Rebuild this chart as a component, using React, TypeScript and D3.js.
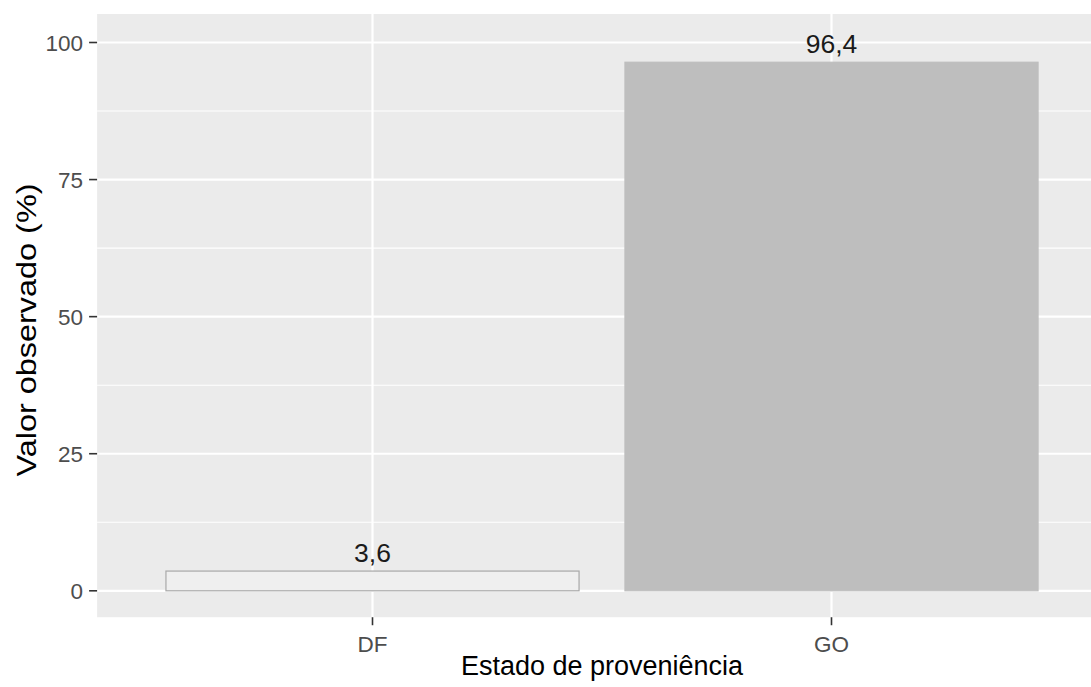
import React from "react";
import * as d3 from "d3";

const categories = ["DF", "GO"];
const values = [3.6, 96.4];
const valueLabels = ["3,6", "96,4"];
const fills = ["#EFEFEF", "#BEBEBE"];
const strokes = ["#A8A8A8", "#BEBEBE"];
const yTicks = [0, 25, 50, 75, 100];
const yMinorTicks = [12.5, 37.5, 62.5, 87.5];
const xTitle = "Estado de proveniência";
const yTitle = "Valor observado (%)";

const W = 1091;
const H = 687;

export default function App() {
  const y = d3.scaleLinear().domain([0, 100]).range([590.8, 42.5]);
  const x = d3.scalePoint<string>().domain(categories).range([372.5, 831.5]);
  const step = x.step();
  const barW = step * 0.9;
  const panelLeft = (x(categories[0]) as number) - 0.6 * step;
  const panelRight = (x(categories[categories.length - 1]) as number) + 0.6 * step;
  const panelTop = y(105.2);
  const panelBottom = y(-4.82);
  const font = "'Liberation Sans', Arial, sans-serif";

  return (
    <svg
      width={W}
      height={H}
      style={{ position: "absolute", left: 0, top: 0, background: "#fff" }}
    >
      <rect x={panelLeft} y={panelTop} width={panelRight - panelLeft} height={panelBottom - panelTop} fill="#EBEBEB" />
      {yMinorTicks.map((t) => (
        <line key={"mn" + t} x1={panelLeft} x2={panelRight} y1={y(t)} y2={y(t)} stroke="#FFFFFF" strokeWidth={1.1} />
      ))}
      {yTicks.map((t) => (
        <line key={"mj" + t} x1={panelLeft} x2={panelRight} y1={y(t)} y2={y(t)} stroke="#FFFFFF" strokeWidth={2.2} />
      ))}
      {categories.map((c) => (
        <line key={"vx" + c} x1={x(c)} x2={x(c)} y1={panelTop} y2={panelBottom} stroke="#FFFFFF" strokeWidth={2.2} />
      ))}
      {categories.map((c, i) => (
        <rect
          key={"bar" + c}
          x={(x(c) as number) - barW / 2}
          y={y(values[i])}
          width={barW}
          height={y(0) - y(values[i])}
          fill={fills[i]}
          stroke={strokes[i]}
          strokeWidth={1.2}
        />
      ))}
      {categories.map((c, i) => (
        <text
          key={"lbl" + c}
          x={x(c)}
          y={y(values[i]) - 9.5}
          textAnchor="middle"
          fontFamily={font}
          fontSize={26.5}
          fill="#1a1a1a"
        >
          {valueLabels[i]}
        </text>
      ))}
      {yTicks.map((t) => (
        <g key={"yt" + t}>
          <line x1={panelLeft - 8} x2={panelLeft} y1={y(t)} y2={y(t)} stroke="#333333" strokeWidth={1.6} />
          <text
            x={panelLeft - 14}
            y={y(t)}
            dy="0.36em"
            textAnchor="end"
            fontFamily={font}
            fontSize={22.5}
            fill="#4D4D4D"
          >
            {t}
          </text>
        </g>
      ))}
      {categories.map((c) => (
        <g key={"xt" + c}>
          <line x1={x(c)} x2={x(c)} y1={panelBottom} y2={panelBottom + 8} stroke="#333333" strokeWidth={1.6} />
          <text
            x={x(c)}
            y={651.5}
            textAnchor="middle"
            fontFamily={font}
            fontSize={22.5}
            fill="#4D4D4D"
          >
            {c}
          </text>
        </g>
      ))}
      <text
        x={(panelLeft + panelRight) / 2}
        y={675}
        textAnchor="middle"
        fontFamily={font}
        fontSize={27}
        fill="#000000"
      >
        {xTitle}
      </text>
      <text
        transform={`translate(36,${330}) rotate(-90)`}
        textAnchor="middle"
        fontFamily={font}
        fontSize={28}
        fill="#000000"
        textLength={293}
        lengthAdjust="spacingAndGlyphs"
      >
        {yTitle}
      </text>
    </svg>
  );
}
